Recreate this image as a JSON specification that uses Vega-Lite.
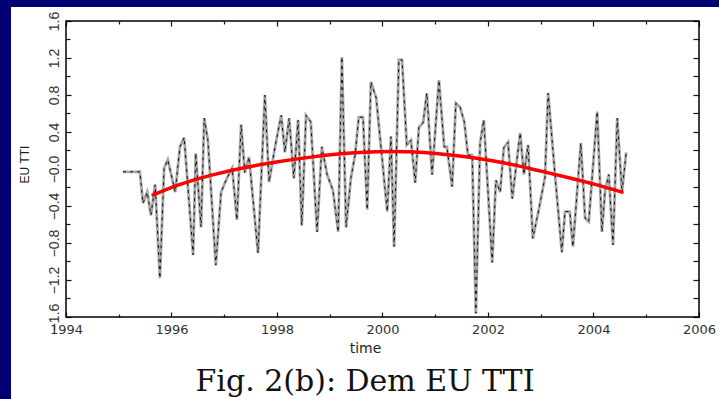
{
  "$schema": "https://vega.github.io/schema/vega-lite/v6.json",
  "width": 708,
  "height": 392,
  "autosize": {"type": "none"},
  "padding": {"left": 11, "top": 7, "right": 0, "bottom": 0},
  "background": "#000073",
  "config": {
    "view": {"fill": "white", "stroke": null},
    "axis": {"grid": false, "domain": false, "labelFont": "Liberation Sans", "labelColor": "#333", "titleFont": "DejaVu Sans", "titleFontWeight": "normal", "titleColor": "#222", "tickColor": "#111", "tickWidth": 1.2}
  },
  "title": {"text": "Fig. 2(b): Dem EU TTI", "orient": "bottom", "anchor": "middle", "frame": "group", "offset": -32, "font": "DejaVu Serif", "fontSize": 30, "fontWeight": "normal", "color": "#111"},
  "datasets": {
    "series": [
      {"t": 1995.08, "v": -0.03}, {"t": 1995.40, "v": -0.03}, {"t": 1995.46, "v": -0.37}, {"t": 1995.54, "v": -0.25},
      {"t": 1995.61, "v": -0.50}, {"t": 1995.69, "v": -0.17}, {"t": 1995.78, "v": -1.18}, {"t": 1995.86, "v": 0.01},
      {"t": 1995.93, "v": 0.10}, {"t": 1996.07, "v": -0.25}, {"t": 1996.16, "v": 0.24}, {"t": 1996.24, "v": 0.34},
      {"t": 1996.41, "v": -0.93}, {"t": 1996.46, "v": 0.17}, {"t": 1996.56, "v": -0.63}, {"t": 1996.62, "v": 0.55},
      {"t": 1996.69, "v": 0.31}, {"t": 1996.84, "v": -1.04}, {"t": 1996.94, "v": -0.25}, {"t": 1997.05, "v": -0.10},
      {"t": 1997.15, "v": 0.01}, {"t": 1997.24, "v": -0.55}, {"t": 1997.32, "v": 0.48}, {"t": 1997.39, "v": -0.04},
      {"t": 1997.47, "v": 0.13}, {"t": 1997.64, "v": -0.91}, {"t": 1997.77, "v": 0.80}, {"t": 1997.85, "v": -0.14},
      {"t": 1997.96, "v": 0.23}, {"t": 1998.08, "v": 0.58}, {"t": 1998.15, "v": 0.18}, {"t": 1998.23, "v": 0.55},
      {"t": 1998.32, "v": -0.10}, {"t": 1998.40, "v": 0.53}, {"t": 1998.47, "v": -0.61}, {"t": 1998.55, "v": 0.58},
      {"t": 1998.64, "v": 0.51}, {"t": 1998.76, "v": -0.68}, {"t": 1998.85, "v": 0.24}, {"t": 1998.95, "v": -0.06},
      {"t": 1999.06, "v": -0.23}, {"t": 1999.16, "v": -0.68}, {"t": 1999.23, "v": 1.21}, {"t": 1999.31, "v": -0.63},
      {"t": 1999.40, "v": -0.10}, {"t": 1999.48, "v": 0.15}, {"t": 1999.55, "v": 0.56}, {"t": 1999.63, "v": 0.56},
      {"t": 1999.71, "v": -0.44}, {"t": 1999.78, "v": 0.94}, {"t": 1999.88, "v": 0.77}, {"t": 2000.09, "v": -0.46},
      {"t": 2000.16, "v": 0.35}, {"t": 2000.22, "v": -0.84}, {"t": 2000.31, "v": 1.18}, {"t": 2000.37, "v": 1.18},
      {"t": 2000.46, "v": 0.26}, {"t": 2000.54, "v": 0.31}, {"t": 2000.62, "v": -0.15}, {"t": 2000.69, "v": 0.45},
      {"t": 2000.77, "v": 0.50}, {"t": 2000.84, "v": 0.82}, {"t": 2000.94, "v": -0.06}, {"t": 2001.07, "v": 0.96},
      {"t": 2001.17, "v": 0.24}, {"t": 2001.22, "v": 0.24}, {"t": 2001.32, "v": -0.19}, {"t": 2001.39, "v": 0.71},
      {"t": 2001.47, "v": 0.67}, {"t": 2001.55, "v": 0.51}, {"t": 2001.62, "v": 0.15}, {"t": 2001.70, "v": 0.15},
      {"t": 2001.77, "v": -1.56}, {"t": 2001.85, "v": 0.28}, {"t": 2001.92, "v": 0.53}, {"t": 2002.08, "v": -1.01},
      {"t": 2002.15, "v": -0.12}, {"t": 2002.23, "v": -0.25}, {"t": 2002.30, "v": 0.23}, {"t": 2002.38, "v": 0.29},
      {"t": 2002.46, "v": -0.32}, {"t": 2002.61, "v": 0.39}, {"t": 2002.68, "v": -0.06}, {"t": 2002.76, "v": 0.26},
      {"t": 2002.85, "v": -0.75}, {"t": 2002.97, "v": -0.42}, {"t": 2003.08, "v": -0.09}, {"t": 2003.14, "v": 0.82},
      {"t": 2003.27, "v": -0.06}, {"t": 2003.40, "v": -0.90}, {"t": 2003.46, "v": -0.46}, {"t": 2003.55, "v": -0.46},
      {"t": 2003.61, "v": -0.84}, {"t": 2003.76, "v": 0.28}, {"t": 2003.84, "v": -0.53}, {"t": 2003.91, "v": -0.57},
      {"t": 2004.07, "v": 0.62}, {"t": 2004.16, "v": -0.68}, {"t": 2004.22, "v": -0.23}, {"t": 2004.29, "v": -0.06},
      {"t": 2004.37, "v": -0.82}, {"t": 2004.45, "v": 0.55}, {"t": 2004.54, "v": -0.25}, {"t": 2004.62, "v": 0.18}
    ],
    "trend": [
      {"t": 1995.65, "v": -0.28}, {"t": 1996.16, "v": -0.16}, {"t": 1996.78, "v": -0.06}, {"t": 1997.40, "v": 0.02},
      {"t": 1998.02, "v": 0.08}, {"t": 1998.64, "v": 0.13}, {"t": 1999.25, "v": 0.17}, {"t": 1999.88, "v": 0.19},
      {"t": 2000.49, "v": 0.19}, {"t": 2001.11, "v": 0.165}, {"t": 2001.72, "v": 0.125}, {"t": 2002.34, "v": 0.065},
      {"t": 2002.95, "v": -0.015}, {"t": 2003.57, "v": -0.10}, {"t": 2004.07, "v": -0.17}, {"t": 2004.54, "v": -0.25}
    ]
  },
  "layer": [
    {
      "data": {"name": "series"},
      "mark": {"type": "line", "color": "#a8a8a8", "strokeWidth": 2.8},
      "encoding": {
        "x": {"field": "t", "type": "quantitative",
          "scale": {"domain": [1992.95735, 2006.37915], "nice": false, "zero": false},
          "axis": {"orient": "bottom", "offset": -82, "values": [1994, 1996, 1998, 2000, 2002, 2004, 2006], "ticks": false, "format": "d", "labelFont": "DejaVu Sans", "labelFontSize": 13, "labelPadding": 6, "labelFlush": false, "labelOverlap": false, "title": "time", "titleFontSize": 14, "titlePadding": 5}},
        "y": {"field": "v", "type": "quantitative",
          "scale": {"domain": [-2.48649, 1.75135], "nice": false, "zero": false},
          "axis": {"orient": "left", "offset": -55, "values": [-1.6, -1.2, -0.8, -0.4, 0, 0.4, 0.8, 1.2, 1.6], "ticks": false, "labelExpr": "datum.value == 0 ? '−0.0' : format(datum.value, '.1f')", "labelAngle": -90, "labelAlign": "center", "labelBaseline": "bottom", "labelPadding": 5, "labelFontSize": 14, "labelFlush": false, "labelOverlap": false, "title": "EU TTI", "titleFont": "Liberation Sans", "titleFontSize": 12, "titleAngle": -90, "titleX": -35, "titleY": 157, "titleAlign": "center", "titleBaseline": "bottom"}}
      }
    },
    {
      "data": {"name": "series"},
      "mark": {"type": "line", "color": "#111111", "strokeWidth": 1, "strokeDash": [3, 4]},
      "encoding": {
        "x": {"field": "t", "type": "quantitative",
          "scale": {"domain": [1992.95735, 2006.37915], "nice": false, "zero": false},
          "axis": {"orient": "top", "offset": -310, "values": [1994, 1995, 1996, 1997, 1998, 1999, 2000, 2001, 2002, 2003, 2004, 2005, 2006], "labels": false, "title": null, "ticks": true, "tickSize": {"condition": {"test": "datum.value % 2 == 0", "value": 5}, "value": 3}}},
        "y": {"field": "v", "type": "quantitative",
          "scale": {"domain": [-2.48649, 1.75135], "nice": false, "zero": false},
          "axis": {"orient": "right", "offset": -653, "values": [-1.6, -1.4, -1.2, -1.0, -0.8, -0.6, -0.4, -0.2, 0, 0.2, 0.4, 0.6, 0.8, 1.0, 1.2, 1.4, 1.6], "labels": false, "title": null, "ticks": true, "tickSize": {"condition": {"test": "abs(round(datum.value*10)) % 4 == 0", "value": 5}, "value": 4}}}
      }
    },
    {
      "data": {"name": "trend"},
      "mark": {"type": "line", "color": "#ff0000", "strokeWidth": 3.5, "interpolate": "basis", "strokeCap": "round"},
      "encoding": {
        "x": {"field": "t", "type": "quantitative",
          "scale": {"domain": [1992.95735, 2006.37915], "nice": false, "zero": false},
          "axis": {"orient": "bottom", "offset": -378, "values": [1994, 1995, 1996, 1997, 1998, 1999, 2000, 2001, 2002, 2003, 2004, 2005, 2006], "labels": false, "title": null, "ticks": true, "tickSize": {"condition": {"test": "datum.value % 2 == 0", "value": 5}, "value": 3}}},
        "y": {"field": "v", "type": "quantitative",
          "scale": {"domain": [-2.48649, 1.75135], "nice": false, "zero": false},
          "axis": {"orient": "left", "offset": -688, "values": [-1.6, -1.4, -1.2, -1.0, -0.8, -0.6, -0.4, -0.2, 0, 0.2, 0.4, 0.6, 0.8, 1.0, 1.2, 1.4, 1.6], "labels": false, "title": null, "ticks": true, "tickSize": 6}}
      }
    },
    {
      "data": {"values": [{}]},
      "mark": {"type": "rect", "fill": "transparent", "stroke": "#000000", "strokeWidth": 1.5},
      "encoding": {
        "x": {"datum": 1994, "type": "quantitative", "scale": {"domain": [1992.95735, 2006.37915], "nice": false, "zero": false}, "axis": null},
        "x2": {"datum": 2006},
        "y": {"datum": -1.6, "type": "quantitative", "scale": {"domain": [-2.48649, 1.75135], "nice": false, "zero": false}, "axis": null},
        "y2": {"datum": 1.6}
      }
    }
  ],
  "resolve": {"axis": {"x": "independent", "y": "independent"}}
}
